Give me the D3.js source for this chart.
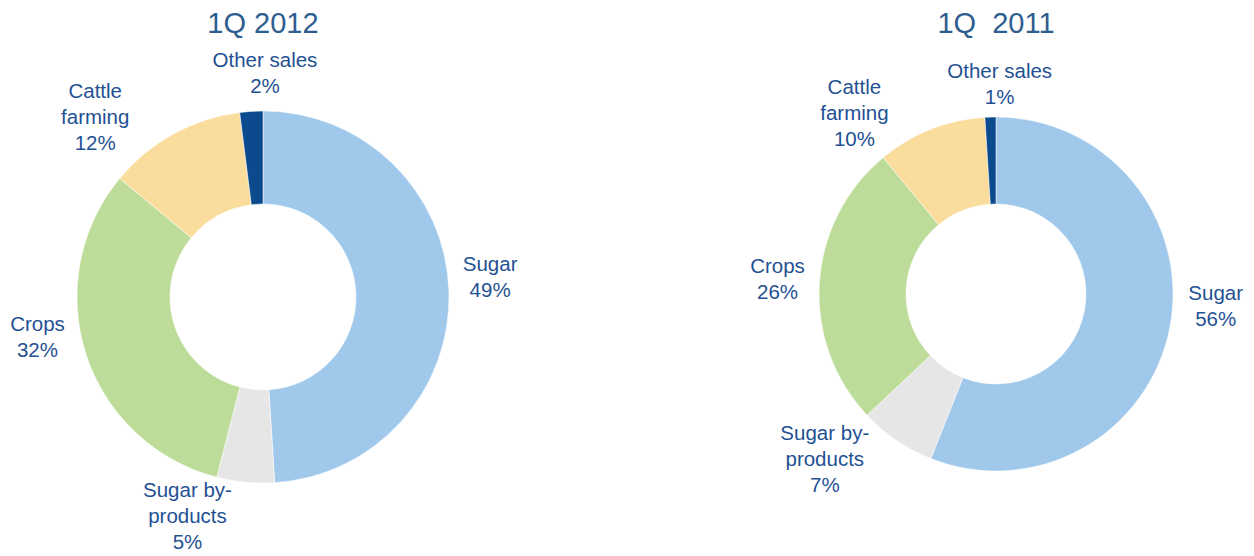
<!DOCTYPE html>
<html lang="en">
<head>
<meta charset="UTF-8">
<title>sales_donuts</title>
<script src="https://cdn.jsdelivr.net/npm/d3@7/dist/d3.min.js"></script>
<style>
  body { margin: 0; background: #fff; }
  text { font-family: "Liberation Sans", Arial, sans-serif; }
</style>
</head>
<body>
<svg width="1254" height="556" id="mainsvg"></svg>
<script>
// data
const categories = ['Sugar', 'Sugar by-products', 'Crops', 'Cattle farming', 'Other sales'];
const labelLines = [['Sugar'], ['Sugar by-', 'products'], ['Crops'], ['Cattle', 'farming'], ['Other sales']];
const values2012 = [49, 5, 32, 12, 2];
const values2011 = [56, 7, 26, 10, 1];
const titles = ['1Q 2012', '1Q  2011'];

const colors = ['#9fc8eb', '#e6e6e6', '#bddc9a', '#fadc9c', '#0c4a8e'];

const svg = d3.select('#mainsvg');
const colorScale = d3.scaleOrdinal().domain(categories).range(colors);

// layout per chart: centre, radii, label placement (angle in deg, distance)
const charts = [
  { title: titles[0], values: values2012, cx: 263, cy: 297, r: 186, r0: 93, titleY: 33,
    labels: [[85, 228], [199, 232], [260, 229], [317, 246], [0.5, 224]] },
  { title: titles[1], values: values2011, cx: 996, cy: 294, r: 177, r0: 90, titleY: 33,
    labels: [[93, 220], [226, 238], [274, 219], [322, 230], [1, 210]] }
];

const pie = d3.pie().sort(null).value(d => d.value);

charts.forEach(c => {
  const g = svg.append('g').attr('transform', `translate(${c.cx},${c.cy})`);
  const data = categories.map((k, i) => ({ key: k, value: c.values[i], lines: labelLines[i] }));
  const arcs = pie(data);
  const arc = d3.arc().innerRadius(c.r0).outerRadius(c.r);

  g.selectAll('path').data(arcs).enter().append('path')
    .attr('d', arc)
    .attr('fill', d => colorScale(d.data.key))
    .attr('stroke', '#fff')
    .attr('stroke-width', 0.5);

  const lineH = 26;
  const lab = g.selectAll('.lbl').data(arcs).enter().append('text')
    .attr('class', 'lbl')
    .attr('text-anchor', 'middle')
    .attr('fill', '#1f5193')
    .attr('font-size', '20.5px')
    .attr('transform', (d, i) => {
      const a = c.labels[i][0] * Math.PI / 180, rr = c.labels[i][1];
      return `translate(${rr * Math.sin(a)},${-rr * Math.cos(a)})`;
    });
  lab.each(function(d) {
    const lines = d.data.lines.concat([d.data.value + '%']);
    const t = d3.select(this);
    const y0 = -(lines.length - 1) * lineH / 2 + 7;
    lines.forEach((s, j) => {
      t.append('tspan').attr('x', 0).attr('y', y0 + j * lineH).text(s);
    });
  });

  svg.append('text')
    .attr('x', c.cx).attr('y', c.titleY)
    .attr('text-anchor', 'middle')
    .attr('fill', '#2e5d90')
    .attr('font-size', '29px')
    .attr('xml:space', 'preserve')
    .style('white-space', 'pre')
    .text(c.title);
});
</script>
</body>
</html>
